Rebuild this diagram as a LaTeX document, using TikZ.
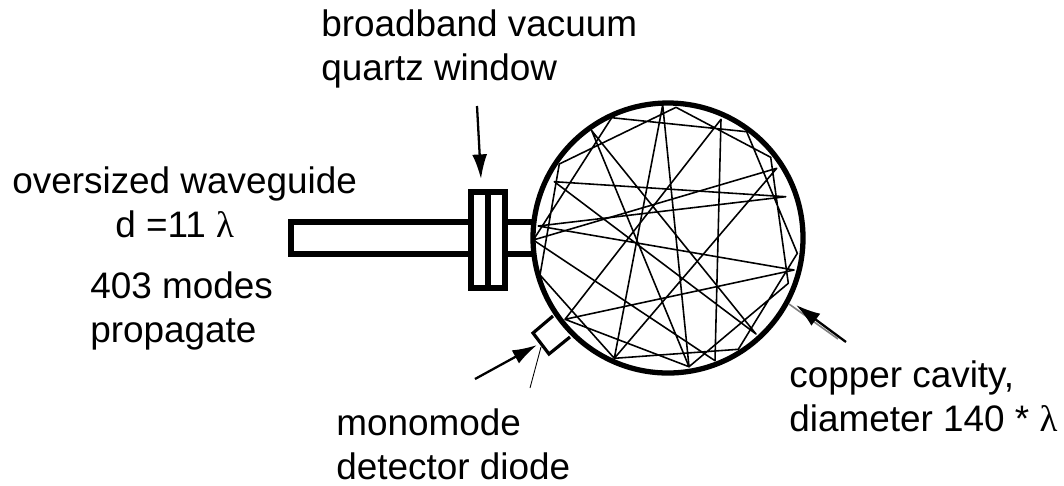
\documentclass[tikz,border=0pt]{standalone}
\usepackage{fontspec}
\setmainfont{Liberation Sans}
\newfontfamily\grkfont{Liberation Serif}
\usetikzlibrary{arrows.meta}
\tikzset{
  label text/.style={anchor=base west,inner sep=0pt,font=\fontsize{21pt}{25pt}\selectfont},
  guide wall/.style={line width=3.7pt},
  ray line/.style={line width=0.9pt,line join=round},
  pointer/.style={line width=1.3pt,-{Latex[length=14pt,width=8.5pt]}},
  thin lead/.style={line width=0.5pt}
}
\newcommand{\lam}{{\grkfont λ}}
\begin{document}
\begin{tikzpicture}[x=0.02cm,y=-0.02cm]
      \useasboundingbox (0,0) rectangle (1064,485);

      % Waveguide and short stub
      \draw[guide wall] (468,222) -- (291,222) -- (291,254) -- (468,254);
      \draw[guide wall] (505,222) -- (534,222);
      \draw[guide wall] (505,254) -- (534,254);

      % Window flange
      \draw[guide wall,fill=white] (471,192) rectangle (505,288);
      \draw[guide wall,line width=3.4pt] (488,192) -- (488,288);

      % Ray end points
      \coordinate (ra) at (662.7,105);
      \coordinate (rb) at (676,107.3);
      \coordinate (rc) at (721,119.3);
      \coordinate (rd) at (611.7,117.7);
      \coordinate (re) at (591.7,130.7);
      \coordinate (rf) at (559.3,164);
      \coordinate (rg) at (554.3,181.7);
      \coordinate (rh) at (776.7,168.3);
      \coordinate (ri) at (785.7,196.7);
      \coordinate (rj) at (746.7,131.7);
      \coordinate (rk) at (770.7,157.3);
      \coordinate (rl) at (797.3,253.3);
      \coordinate (rm) at (794,270);
      \coordinate (rn) at (788.3,283.3);
      \coordinate (ro) at (756,334);
      \coordinate (rp) at (738.3,349.3);
      \coordinate (rq) at (715,360.7);
      \coordinate (rr) at (689,366.7);
      \coordinate (rs) at (614.3,358.3);
      \coordinate (rt) at (565,319.3);
      \coordinate (ru) at (540,275);
      \coordinate (rv) at (533.3,240);
      \coordinate (rw) at (538.3,226);

      % Cavity with the rays inside
      \draw[line width=3pt,fill=white] (668,238) circle (135);
      \draw[ray line]
      (rd) -- (rj) -- (rl) -- (rp) -- (rs) -- (ru) -- (rf) -- (rb) --
      (rk) -- (rn) -- (rr) -- (ra) -- (rs) -- (rh) -- (rv) -- (rd);
      \draw[ray line]
      (rv) -- (rq) -- (rc) -- (rt) -- (rm) -- (rw) -- (ri) -- (rg) --
      (ro) -- (re) -- (rr) -- (rt);

      % Diode box on the cavity wall
      \draw[line width=1.8pt,fill=white] (553,316) -- (533,333) -- (549,354) -- (570,337);
      \coordinate (leadtop) at (541,347);
      \coordinate (leadend) at (530,388);
      \draw[thin lead] (leadtop) -- (leadend);

      % Labels
      \node[label text] (window1) at (321,36) {broadband vacuum};
      \node[label text] (window2) at (321,80) {quartz window};
      \node[label text] (guide1) at (12,193) {oversized waveguide};
      \node[label text] (guide2) at (115,237) {d =11 \lam};
      \node[label text] (modes1) at (90,298) {403 modes};
      \node[label text] (modes2) at (90,342) {propagate};
      \node[label text] (diode1) at (336,435) {monomode};
      \node[label text] (diode2) at (336,479) {detector diode};
      \node[label text] (cavity1) at (789,387) {copper cavity,};
      \node[label text] (cavity2) at (789,431) {diameter 140 * \lam};

      % Pointers
      \coordinate (wintail) at (477,106);
      \coordinate (wintip) at (481,179);
      \coordinate (diotail) at (475,379);
      \coordinate (diotip) at (537,345);
      \coordinate (cavtail) at (846,342);
      \coordinate (cavtip) at (796,305);
      \coordinate (cavwall) at (789,304);
      \coordinate (cavlead) at (838,339);
      \draw[thin lead,gray,line width=0.9pt] (cavwall) -- (cavlead);
      \draw[pointer] (wintail) -- (wintip);
      \draw[pointer] (diotail) -- (diotip);
      \draw[pointer] (cavtail) -- (cavtip);
\end{tikzpicture}
\end{document}
